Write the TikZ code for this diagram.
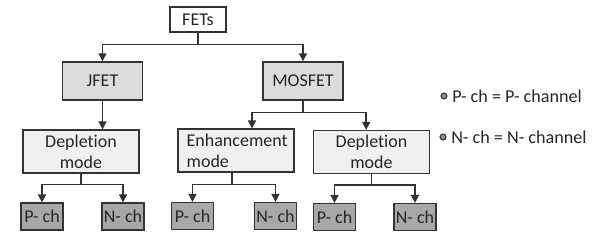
\documentclass[tikz,border=0pt]{standalone}
\usepackage{fontspec}
\setmainfont{Carlito}[Ligatures=NoCommon]
\usepackage{xcolor}
\usetikzlibrary{arrows.meta,positioning,calc}
\definecolor{edge}{HTML}{333333}
\definecolor{topfill}{HTML}{DCDCDC}
\definecolor{modefill}{HTML}{F0F0F0}
\definecolor{leaffill}{HTML}{A8A8A8}
\begin{document}
\begin{tikzpicture}[x=0.75pt,y=-0.75pt,>={Triangle[length=6pt,width=6pt]},every node/.style={align=center,font=\fontsize{13.5}{15.75}\selectfont,text=black!85,inner sep=0pt},box/.style={draw=edge,line width=1.1pt},famous/.style={box,fill=topfill,minimum width=60pt,minimum height=28.5pt},modebox/.style={box,fill=modefill,minimum width=87pt,minimum height=32pt},leafbox/.style={box,fill=leaffill,minimum width=31.5pt,minimum height=20pt},wire/.style={draw=edge,line width=1.1pt},keytext/.style={anchor=west,font=\fontsize{13.6}{16}\selectfont}]
\useasboundingbox (0,0) rectangle (600,246);
\node[box,fill=white,minimum width=42pt,minimum height=18.5pt] (fets) at (198,19.5) {FETs};
\node[famous] (jfet) at (102.5,81) {JFET};
\node[famous] (mosfet) at (303,81) {MOSFET};
\node[modebox] (depj) at (81,151.5) {Depletion\\mode};
\node[modebox,align=left,text width=74pt] (enh) at (236,150.5) {Enhancement\\mode};
\node[modebox] (depm) at (371.5,152) {Depletion\\mode};
\node[leafbox] (pj) at (42,216.5) {P- ch};\node[leafbox] (nj) at (123,216.5) {N- ch};
\node[leafbox] (pe) at (192.5,216) {P- ch};\node[leafbox] (ne) at (275.5,216) {N- ch};
\node[leafbox] (pm) at (334.5,217) {P- ch};\node[leafbox] (nm) at (415,217) {N- ch};
% key
\node[circle,draw=edge,fill=black!45,line width=0.8pt,minimum size=4.5pt] (dotp) at (444,96) {};
\node[keytext] (keyp) at (452,96) {P- ch = P- channel};
\node[circle,draw=edge,fill=black!45,line width=0.8pt,minimum size=4.5pt] (dotn) at (443,137) {};
\node[keytext] (keyn) at (451,137) {N- ch = N- channel};
% connectors
\draw[wire] (fets.south) -- ++(0,12) coordinate (splitf);
\draw[wire,->] (splitf) -| (jfet.north);\draw[wire,->] (splitf) -| (mosfet.north);
\draw[wire,->] (jfet.south) -- (jfet.south |- depj.north);
\draw[wire] (mosfet.south) -- ++(0,12) coordinate (splitm);
\draw[wire,->] (splitm) -| ([xshift=12pt]enh.north);\draw[wire,->] (splitm) -| ([xshift=-4pt]depm.north);
\draw[wire] (depj.south) -- ++(0,11) coordinate (splitj);
\draw[wire,->] (splitj) -| (pj.north);\draw[wire,->] (splitj) -| (nj.north);
\draw[wire] ([xshift=-3pt]enh.south) -- ++(0,12) coordinate (splite);
\draw[wire,->] (splite) -| (pe.north);\draw[wire,->] (splite) -| (ne.north);
\draw[wire] (depm.south) -- ++(0,11) coordinate (splitd);
\draw[wire,->] (splitd) -| (pm.north);\draw[wire,->] (splitd) -| (nm.north);
\end{tikzpicture}
\end{document}
